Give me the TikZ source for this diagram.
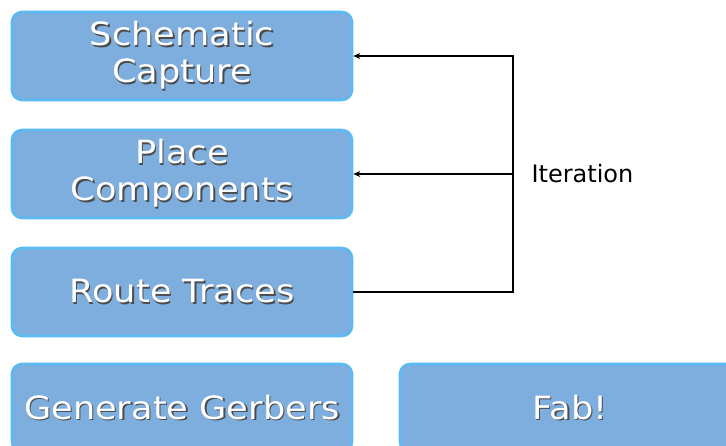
\documentclass[tikz,border=0pt]{standalone}
\usepackage{fontspec}
\setmainfont{DejaVu Sans}
\newfontfamily\boxfont[FakeStretch=1.1]{DejaVu Sans}
\usetikzlibrary{arrows.meta}
\definecolor{boxfill}{RGB}{125,174,222}
\definecolor{boxline}{RGB}{92,186,242}
\newcommand{\shtext}[1]{\rlap{\hspace{1.5pt}\raisebox{-1.5pt}{\color{black!70}#1}}#1}
\tikzset{
  stage/.style={rectangle, rounded corners=10pt, fill=boxfill, draw=boxline, line width=2.6pt,
    minimum width=340pt, minimum height=88pt, text=white, align=center,
    font=\boxfont\fontsize{32}{37}\selectfont},
  loop/.style={line width=2.2pt, black}
}
\begin{document}
\begin{tikzpicture}[x=1pt, y=-1pt]
		\useasboundingbox (0,0) rectangle (726,445);

		\node[stage] (schem) at (182,56) {\shtext{Schematic}\\\shtext{Capture}};
		\node[stage] (place) at (182,174) {\shtext{Place}\\\shtext{Components}};
		\node[stage] (route) at (182,292) {\shtext{Route Traces}};
		\node[stage] (gerb) at (182,408) {\shtext{Generate Gerbers}};
		\node[stage] (fab) at (570,408) {\shtext{Fab!}};

		\coordinate (looptop) at (513,56);
		\coordinate (loopmid) at (513,174);

		\draw[loop, -{Stealth[length=7pt,width=6pt]}] (route.east) -| (looptop) -- (schem.east);
		\draw[loop, -{Stealth[length=7pt,width=6pt]}] (loopmid) -- (place.east);
		\node[anchor=west, font=\fontsize{24}{28}\selectfont] (iter) at (528,174) {Iteration};
	\end{tikzpicture}
\end{document}
